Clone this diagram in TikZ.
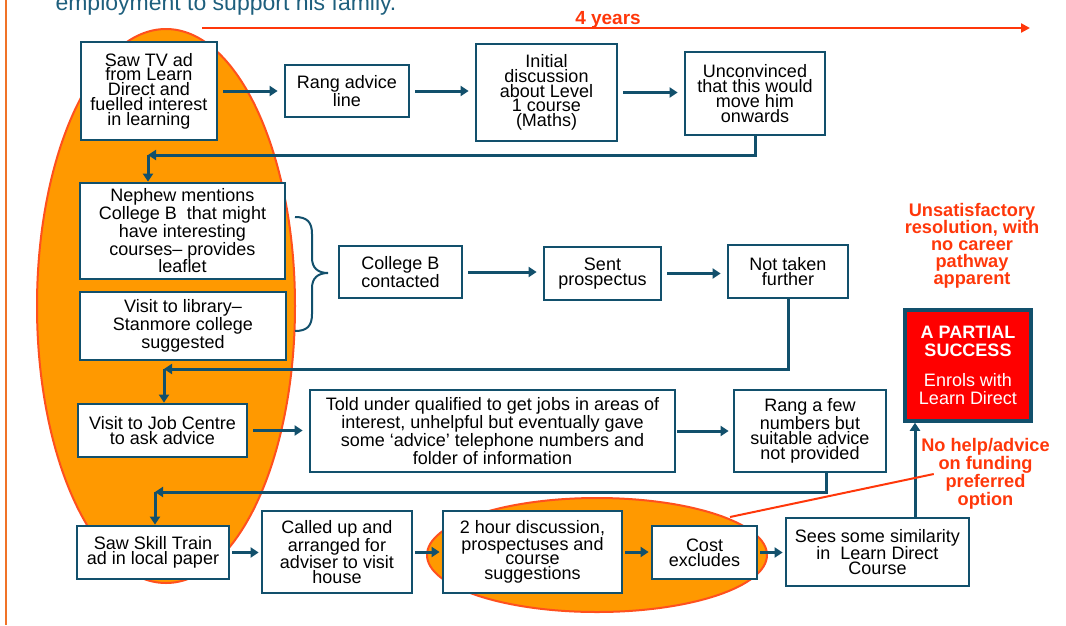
\documentclass[tikz,border=0pt]{standalone}
\usepackage{fontspec}
\setmainfont{Liberation Sans}
\usepackage{tikz}
\usetikzlibrary{arrows.meta, positioning}
\definecolor{boxblue}{RGB}{18,80,108}
\definecolor{textblue}{RGB}{30,95,125}
\definecolor{hired}{RGB}{255,55,10}
\definecolor{ovalfill}{RGB}{255,153,0}
\definecolor{ovaledge}{RGB}{255,80,30}
\definecolor{pageline}{RGB}{240,115,40}

\begin{document}
\begin{tikzpicture}[x=1pt, y=-1pt,
    box/.style={draw=boxblue, line width=2.8pt, fill=white, align=center, inner sep=0pt,
        font=\fontsize{18}{14.8}\selectfont},
    flow/.style={boxblue, line width=3pt, -{Triangle[length=8pt, width=10pt]}, shorten <=5pt, shorten >=6pt},
    shortflow/.style={flow, shorten <=2pt, shorten >=2pt},
    link/.style={boxblue, line width=3pt, -{Triangle[length=8pt, width=10pt]}},
    note/.style={hired, align=center, font=\bfseries\fontsize{18.2}{16.8}\selectfont},
    oval/.style={fill=ovalfill, draw=ovaledge, line width=2pt}]
    \useasboundingbox (0,0) rectangle (1066,625);
    \clip (0,0) rectangle (1066,625);
    \draw[pageline, line width=2pt] (6,0) -- (6,625);
    \node[anchor=base west, text=textblue, font=\fontsize{23}{27}\selectfont] (intro) at (52,10) {employment to support his family.};

    \coordinate (tstart) at (202,28);
    \coordinate (tend) at (1030,28);
    \draw[hired, line width=2.5pt, -{Triangle[length=9pt, width=9pt]}] (tstart) -- (tend);
    \node[note, anchor=base, font=\bfseries\fontsize{19}{20}\selectfont] (years) at (608,24) {4 years};

    \draw[oval] (166,306) ellipse [x radius=129, y radius=277];
    \draw[oval] (597,555) ellipse [x radius=170, y radius=57];

    \node[box, minimum width=136, minimum height=98] (tv) at (149,91) {Saw TV ad\\from Learn\\Direct and\\fuelled interest\\in learning};
    \node[box, minimum width=124, minimum height=52] (rang) at (347,91) {Rang advice\\line};
    \node[box, minimum width=141, minimum height=97] (init) at (546.5,92.5) {Initial\\discussion\\about Level\\1 course\\(Maths)};
    \node[box, minimum width=140, minimum height=83] (unc) at (755,93.5) {Unconvinced\\that this would\\move him\\onwards};

    \node[box, minimum width=205, minimum height=96] (neph) at (182.5,231) {Nephew mentions\\College B~~that might\\have interesting\\courses-- provides\\leaflet};
    \node[box, minimum width=206, minimum height=68] (lib) at (183,326) {Visit to library--\\Stanmore college\\suggested};
    \node[box, minimum width=123, minimum height=52] (collb) at (400.5,272) {College B\\contacted};
    \node[box, minimum width=117, minimum height=53] (sent) at (602.5,273.5) {Sent\\prospectus};
    \node[box, minimum width=120, minimum height=53] (nottk) at (788,271.5) {Not taken\\further};

    \node[box, minimum width=169, minimum height=53] (job) at (162.5,430.5) {Visit to Job Centre\\to ask advice};
    \node[box, minimum width=365, minimum height=82] (told) at (492.5,431) {Told under qualified to get jobs in areas of\\interest, unhelpful but eventually gave\\some `advice' telephone numbers and\\folder of information};
    \node[box, minimum width=152, minimum height=82] (ring) at (810,431) {Rang a few\\numbers but\\suitable advice\\not provided};

    \node[box, minimum width=152, minimum height=53] (skill) at (153,552.5) {Saw Skill Train\\ad in local paper};
    \node[box, minimum width=150, minimum height=82] (call) at (337,552) {Called up and\\arranged for\\adviser to visit\\house};
    \node[box, minimum width=179, minimum height=82] (disc) at (532.5,552) {2 hour discussion,\\prospectuses and\\course\\suggestions};
    \node[box, minimum width=105, minimum height=53] (cost) at (704.5,552.5) {Cost\\excludes};
    \node[box, minimum width=183, minimum height=68] (sees) at (877.5,552) {Sees some similarity\\in~~Learn Direct\\Course};

    \node[box, fill=red, line width=3.5pt, text=white, minimum width=126, minimum height=111,
        font=\fontsize{18}{17.5}\selectfont] (partial) at (968,365.5) {\textbf{A PARTIAL}\\\textbf{SUCCESS}\\[13pt]Enrols with\\Learn Direct};
    \node[note] (unsat) at (972,245.5) {Unsatisfactory\\resolution, with\\no career\\pathway\\apparent};
    \node[note] (fund) at (985.5,474) {No help/advice\\on funding\\preferred\\option};

    \draw[flow] (tv.east) -- (tv.east -| rang.west);
    \draw[flow] (rang.east) -- (rang.east -| init.west);
    \draw[flow] (init.east) -- (init.east -| unc.west);
    \coordinate (c1) at (148,155);
    \draw[link] (unc.south) |- (c1);
    \draw[link] (c1) -- (c1 |- neph.north);

    \draw[boxblue, line width=2pt] (295,217) .. controls (307,217) and (312,222) .. (312,234) -- (312,258)
        .. controls (312,268) and (318,273) .. (328,273) .. controls (318,273) and (312,278) .. (312,288)
        -- (312,314) .. controls (312,326) and (307,331) .. (295,331);
    \draw[flow] (collb.east) -- (collb.east -| sent.west);
    \draw[flow] (sent.east) -- (sent.east -| nottk.west);
    \coordinate (c2) at (164,369);
    \draw[link] (nottk.south) |- (c2);
    \draw[link] (c2) -- (c2 |- job.north);

    \draw[flow] (job.east) -- (job.east -| told.west);
    \draw[flow, shorten <=1pt, shorten >=4pt] (told.east) -- (told.east -| ring.west);
    \coordinate (c3) at (155,492);
    \draw[link] ([xshift=16pt]ring.south) |- (c3);
    \draw[link] (c3) -- (c3 |- skill.north);

    \draw[shortflow] (skill.east) -- (skill.east -| call.west);
    \draw[shortflow] (call.east) -- (call.east -| disc.west);
    \draw[shortflow] (disc.east) -- (disc.east -| cost.west);
    \draw[shortflow] (cost.east) -- (cost.east -| sees.west);
    \coordinate (upx) at (915,0);
    \draw[link] (sees.north -| upx) -- (partial.south -| upx);

    \coordinate (fundend) at (730,517);
    \draw[hired, line width=2pt] ([xshift=16pt]fund.west) -- (fundend);
\end{tikzpicture}
\end{document}
